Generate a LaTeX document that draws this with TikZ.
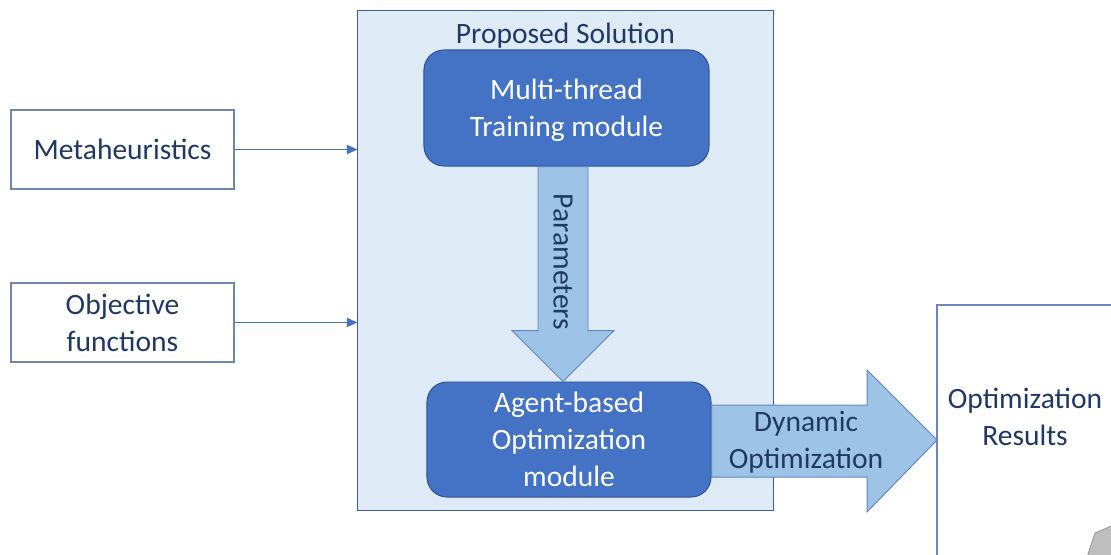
\documentclass[tikz,border=0pt]{standalone}
\usepackage{fontspec}
\setmainfont{Carlito}
\usetikzlibrary{positioning,calc,arrows.meta}
\definecolor{navy}{HTML}{1F3864}
\definecolor{boxline}{HTML}{6F86B5}
\definecolor{solfill}{HTML}{DEEBF7}
\definecolor{solline}{HTML}{3E5C98}
\definecolor{modfill}{HTML}{4472C4}
\definecolor{modline}{HTML}{2F528F}
\definecolor{arrfill}{HTML}{9DC3E6}
\definecolor{arrline}{HTML}{5F86C0}
\definecolor{linkcol}{HTML}{4472C4}

\begin{document}
\begin{tikzpicture}[x=0.025cm,y=-0.025cm,line join=miter,
  txt/.style={font=\fontsize{21}{26.5}\selectfont,text=navy,align=center,inner sep=0pt},
  inbox/.style={txt,draw=boxline,line width=0.8pt,fill=white,minimum width=5.575cm,minimum height=1.975cm},
  solbox/.style={draw=solline,line width=0.7pt,fill=solfill,minimum width=10.375cm,minimum height=12.475cm},
  module/.style={txt,text=white,draw=modline,line width=0.7pt,fill=modfill,rounded corners=0.5cm},
  block/.style={draw=arrline,line width=0.7pt,fill=arrfill},
  link/.style={linkcol,line width=1pt,-{Triangle[length=7.5pt,width=6.5pt]}}]
  \useasboundingbox (0,0) rectangle (1111,554);

  % inputs
  \node[inbox] (meta) at (122.5,149.5) {Metaheuristics};
  \node[inbox] (obj) at (122.5,322.5) {Objective\\functions};

  % proposed solution
  \node[solbox] (sol) at (565.5,260.5) {};
  \node[txt] (soltitle) at (565.5,36) {Proposed Solution};
  \node[module,minimum width=7.125cm,minimum height=2.9cm,text depth=-0.05cm] (train) at (566.5,108) {Multi-thread\\Training module};
  \node[module,minimum width=7.1cm,minimum height=2.875cm] (agent) at (569,439.5) {Agent-based\\Optimization\\module};

  % results
  \draw[boxline,line width=0.8pt,fill=white] (937,620) -- (937,305) -- (1116,305);
  \coordinate (resw) at (937,440);
  \node[txt] (result) at (1025,417) {Optimization\\Results};
  \fill[gray!50,draw=gray] (1086,560) -- (1095,533) -- (1116,524) -- (1116,560) -- cycle;

  \draw[link] (meta.east) -- (meta.east -| sol.west);
  \draw[link] (obj.east) -- (obj.east -| sol.west);

  % block arrows
  \draw[block] ($(train.south)+(-28.5,0)$) -- ++(0,164) -- ++(-26,0)
    -- ($(agent.north)+(-6,0)$) -- ($(train.south)+(47.5,164)$) -- ++(-26,0)
    -- ($(train.south)+(21.5,0)$) -- cycle;
  \node[txt,rotate=-90] (param) at (563,262) {Parameters};

  \draw[block] (agent.east |- 0,405) -- (867,405) -- (867,370) -- (resw)
    -- (867,512) -- (867,477) -- (agent.east |- 0,477) -- cycle;
  \node[txt] (dynopt) at (806,442) {Dynamic\\Optimization};
\end{tikzpicture}
\end{document}
